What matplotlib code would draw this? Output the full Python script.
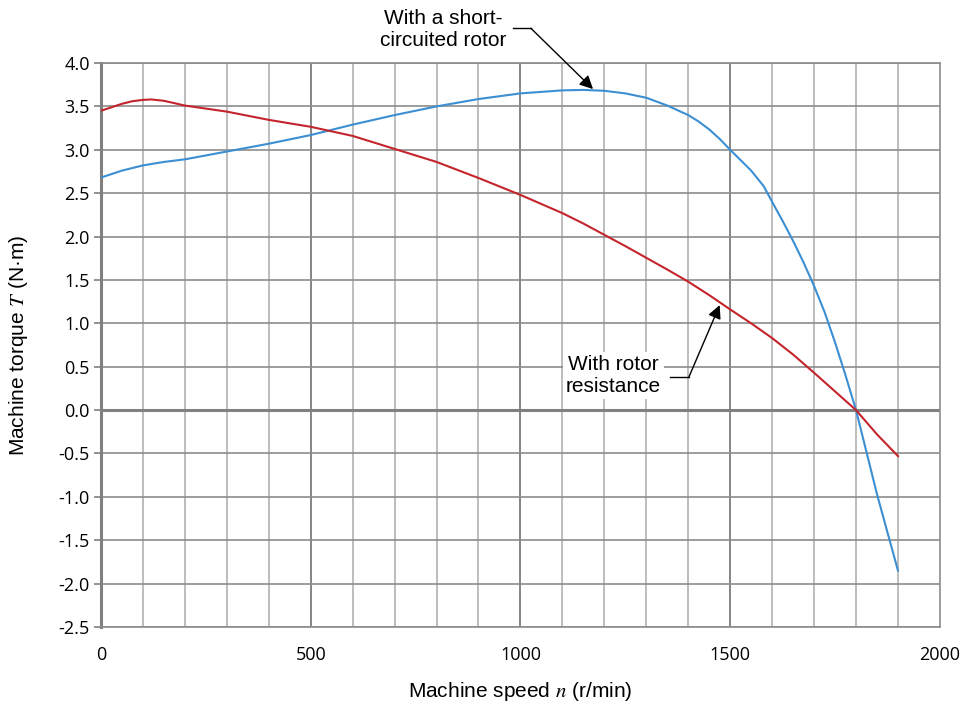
import matplotlib
matplotlib.use("Agg")
import matplotlib.pyplot as plt
import numpy as np

matplotlib.rcParams['font.family'] = ['Liberation Sans', 'DejaVu Sans']
matplotlib.rcParams['mathtext.fontset'] = 'stix'

# 数据：转速 (r/min) 与转矩 (N·m)
speed_short = [0, 50, 100, 150, 200, 300, 400, 500, 600, 700, 800, 900, 1000,
               1100, 1150, 1200, 1250, 1300, 1350, 1400, 1425, 1450, 1475, 1500,
               1525, 1550, 1580, 1600, 1625, 1650, 1675, 1700, 1725, 1750, 1775,
               1800, 1850, 1900]
torque_short = [2.68, 2.76, 2.82, 2.86, 2.89, 2.98, 3.07, 3.17, 3.29, 3.40, 3.50,
                3.585, 3.65, 3.685, 3.69, 3.68, 3.65, 3.60, 3.51, 3.40, 3.325,
                3.235, 3.125, 3.00, 2.88, 2.76, 2.58, 2.40, 2.18, 1.95, 1.70,
                1.43, 1.13, 0.78, 0.40, 0.0, -0.97, -1.85]

speed_res = [0, 25, 50, 75, 100, 120, 150, 200, 300, 400, 500, 600, 700, 800,
             900, 1000, 1050, 1100, 1150, 1200, 1250, 1300, 1350, 1400, 1450,
             1500, 1550, 1600, 1650, 1700, 1750, 1800, 1850, 1870, 1900]
torque_res = [3.45, 3.49, 3.53, 3.56, 3.575, 3.58, 3.565, 3.51, 3.44, 3.345,
              3.265, 3.16, 3.01, 2.86, 2.675, 2.48, 2.375, 2.27, 2.15, 2.02,
              1.89, 1.755, 1.62, 1.48, 1.325, 1.16, 1.0, 0.83, 0.64, 0.43,
              0.215, 0.0, -0.28, -0.38, -0.53]

x_ticks = [0, 500, 1000, 1500, 2000]
y_ticks = np.arange(-2.5, 4.01, 0.5)

fig = plt.figure(figsize=(9.68, 7.13), dpi=100)
ax = fig.add_axes([0.1043, 0.1206, 0.8667, 0.791])

# 网格线
for xv in range(100, 2000, 100):
    if xv % 500 == 0:
        ax.axvline(xv, color='#858585', lw=1.4, zorder=1)
    else:
        ax.axvline(xv, color='#bdbdbd', lw=1.4, zorder=1)
for yv in y_ticks:
    ax.axhline(yv, color='#8c8c8c', lw=1.2, zorder=1)
ax.axhline(0, color='#808080', lw=2.2, zorder=1.5)

ax.plot(speed_short, torque_short, color='#3b8fd2', lw=1.5, zorder=3)
ax.plot(speed_res, torque_res, color='#c4242c', lw=1.5, zorder=3)

ax.set_xlim(0, 2000)
ax.set_ylim(-2.5, 4.0)
ax.set_xticks(x_ticks)
ax.set_yticks(y_ticks)
ax.set_yticklabels([f'{v:.1f}' for v in y_ticks])
ax.tick_params(axis='y', length=5, width=1.2, color='#808080', labelsize=13, pad=3)
ax.tick_params(axis='x', length=0, labelsize=13, pad=14)
for lab in ax.get_xticklabels() + ax.get_yticklabels():
    lab.set_fontfamily(['Open Sans', 'DejaVu Sans'])

for side in ['top', 'right', 'bottom']:
    ax.spines[side].set_color('#8c8c8c')
    ax.spines[side].set_linewidth(1.2)
ax.spines['left'].set_color('#808080')
ax.spines['left'].set_linewidth(2.2)

ax.set_xlabel('Machine speed $n$ (r/min)', fontsize=15)
ax.set_ylabel('Machine torque $T$ (N·m)', fontsize=15)
ax.xaxis.set_label_coords(0.5, -0.094)
ax.yaxis.set_label_coords(-0.085, 0.5)

# 标注：短路转子
ax.text(815, 4.385, 'With a short-\ncircuited rotor', ha='center', va='center',
        fontsize=15, linespacing=1.25, clip_on=False)
ax.plot([982, 1025], [4.40, 4.40], color='black', lw=1, clip_on=False)
ax.annotate('', xy=(1173, 3.70), xytext=(1025, 4.40),
            arrowprops=dict(arrowstyle='-|>', color='black', lw=1,
                            mutation_scale=20, shrinkA=0, shrinkB=0),
            annotation_clip=False)

# 标注：转子电阻
ax.text(1222, 0.40, 'With rotor\nresistance', ha='center', va='center',
        fontsize=15, linespacing=1.25, zorder=4,
        bbox=dict(facecolor='white', edgecolor='none', pad=2))
ax.plot([1356, 1402], [0.386, 0.386], color='black', lw=1, zorder=5)
ax.annotate('', xy=(1475, 1.21), xytext=(1402, 0.386),
            arrowprops=dict(arrowstyle='-|>', color='black', lw=1,
                            mutation_scale=20, shrinkA=0, shrinkB=0),
            zorder=5)

fig.savefig('out.png', dpi=100)
